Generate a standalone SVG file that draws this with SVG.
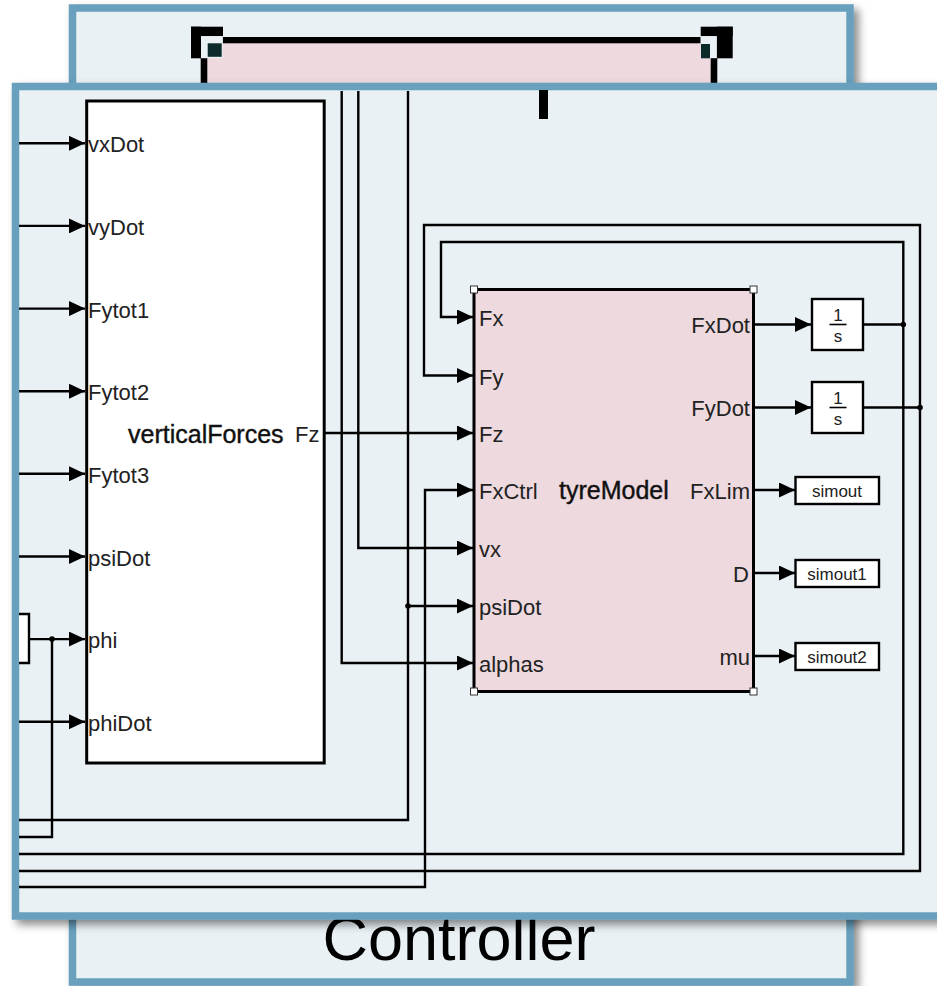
<svg xmlns="http://www.w3.org/2000/svg" width="937" height="986" viewBox="0 0 937 986">
<defs>
<style>
.panel{fill:#e9f1f5;stroke:#68a0bd;stroke-width:7.5}
.blk{stroke:#000;stroke-width:3}
.w{stroke:#000;stroke-width:2.4;fill:none}
.lbl{font-family:"Liberation Sans",Arial,sans-serif;font-size:22px;fill:#222}
.ttl{font-family:"Liberation Sans",Arial,sans-serif;font-size:25px;fill:#111;stroke:#111;stroke-width:0.4}
.sm{font-family:"Liberation Sans",Arial,sans-serif;font-size:17px;fill:#222;text-anchor:middle}
.frac{font-family:"Liberation Sans",Arial,sans-serif;font-size:17px;fill:#222;text-anchor:middle}
.h{fill:#fff;stroke:#333;stroke-width:1}
</style>
<filter id="sh" x="-5%" y="-5%" width="115%" height="115%">
<feDropShadow dx="5" dy="5" stdDeviation="4" flood-color="#000" flood-opacity="0.45"/>
</filter>
<marker id="ar" markerUnits="userSpaceOnUse" markerWidth="16" markerHeight="15" refX="16" refY="7.5" orient="auto">
<path d="M0,0 L16,7.5 L0,15 z" fill="#000"/>
</marker>
</defs>
<rect width="937" height="986" fill="#fff"/>

<g id="controller">
<rect class="panel" x="72.5" y="8" width="777.5" height="974" filter="url(#sh)"/>
<text x="459" y="960" font-family="'Liberation Sans',Arial,sans-serif" font-size="63" fill="#000" text-anchor="middle">Controller</text>
<rect x="207" y="43" width="504" height="45" fill="#edd9de"/>
<rect x="222.7" y="37" width="478" height="6.3" fill="#000"/>
<rect x="200.7" y="58" width="6.6" height="30" fill="#000"/>
<rect x="710.7" y="58" width="6.6" height="30" fill="#000"/>
<rect x="191" y="26.7" width="32" height="9.5" fill="#000"/>
<rect x="191" y="26.7" width="10" height="31.6" fill="#000"/>
<rect x="201" y="36.2" width="21.7" height="22" fill="#e9f1f5"/>
<rect x="207.7" y="43.3" width="14" height="13.5" fill="#0b2a2a"/>
<rect x="700.7" y="26.7" width="32" height="9.5" fill="#000"/>
<rect x="716.7" y="26.7" width="16" height="31.6" fill="#000"/>
<rect x="700.7" y="36.2" width="16" height="22" fill="#e9f1f5"/>
<rect x="701" y="44" width="9" height="14.3" fill="#0b2a2a"/>
</g>

<g id="subsystem">
<rect class="panel" x="15.5" y="86.5" width="940" height="829.5" filter="url(#sh)"/>
<rect x="539" y="90" width="9" height="29" fill="#000"/>
</g>

<g id="phiSource">
<rect x="19" y="614" width="10" height="49" fill="#fff"/>
<path d="M19,614 H29 V663 H19" fill="none" stroke="#000" stroke-width="2.4"/>
</g>

<g id="verticalForces">
<rect class="blk" x="86.7" y="101" width="237.5" height="662" fill="#fff"/>
<text class="lbl" x="88" y="152.3">vxDot</text>
<text class="lbl" x="88" y="234.9">vyDot</text>
<text class="lbl" x="88" y="317.6">Fytot1</text>
<text class="lbl" x="88" y="400.2">Fytot2</text>
<text class="lbl" x="88" y="482.8">Fytot3</text>
<text class="lbl" x="88" y="565.5">psiDot</text>
<text class="lbl" x="88" y="648.1">phi</text>
<text class="lbl" x="88" y="730.7">phiDot</text>
<text class="ttl" x="128" y="443">verticalForces</text>
<text class="lbl" x="295" y="442">Fz</text>
</g>

<g id="tyreModel">
<rect class="blk" x="474" y="289.5" width="279.5" height="402" fill="#edd9de"/>
<rect class="h" x="470.5" y="286" width="7" height="7"/>
<rect class="h" x="750" y="286" width="7" height="7"/>
<rect class="h" x="470.5" y="688" width="7" height="7"/>
<rect class="h" x="750" y="688" width="7" height="7"/>
<text class="lbl" x="479" y="326">Fx</text>
<text class="lbl" x="479" y="384.5">Fy</text>
<text class="lbl" x="479" y="442">Fz</text>
<text class="lbl" x="479" y="499">FxCtrl</text>
<text class="lbl" x="479" y="557">vx</text>
<text class="lbl" x="479" y="615">psiDot</text>
<text class="lbl" x="479" y="672">alphas</text>
<text class="ttl" x="559" y="499">tyreModel</text>
<g text-anchor="end">
<text class="lbl" x="750" y="333.3">FxDot</text>
<text class="lbl" x="750" y="416.3">FyDot</text>
<text class="lbl" x="750" y="499.3">FxLim</text>
<text class="lbl" x="749" y="582.3">D</text>
<text class="lbl" x="750" y="665.3">mu</text>
</g>
</g>

<g id="integrator1">
<rect x="812" y="299" width="51" height="51" fill="#fff" stroke="#000" stroke-width="2.4"/>
<text class="frac" x="838" y="321">1</text>
<line x1="829.5" y1="324.5" x2="846.5" y2="324.5" stroke="#000" stroke-width="1.6"/>
<text class="frac" x="838" y="342">s</text>
</g>
<g id="integrator2">
<rect x="812" y="382" width="51" height="51" fill="#fff" stroke="#000" stroke-width="2.4"/>
<text class="frac" x="838" y="404">1</text>
<line x1="829.5" y1="407.5" x2="846.5" y2="407.5" stroke="#000" stroke-width="1.6"/>
<text class="frac" x="838" y="425">s</text>
</g>
<g id="simout">
<rect x="795.5" y="477" width="83.5" height="27" fill="#fff" stroke="#000" stroke-width="2.4"/>
<text class="sm" x="837" y="496.5">simout</text>
</g>
<g id="simout1">
<rect x="795.5" y="560" width="83.5" height="27" fill="#fff" stroke="#000" stroke-width="2.4"/>
<text class="sm" x="837" y="579.5">simout1</text>
</g>
<g id="simout2">
<rect x="795.5" y="643" width="83.5" height="27" fill="#fff" stroke="#000" stroke-width="2.4"/>
<text class="sm" x="837" y="662.5">simout2</text>
</g>

<g id="connectors">
<path class="w" marker-end="url(#ar)" d="M19,143.3 H85"/>
<path class="w" marker-end="url(#ar)" d="M19,225.9 H85"/>
<path class="w" marker-end="url(#ar)" d="M19,308.6 H85"/>
<path class="w" marker-end="url(#ar)" d="M19,391.2 H85"/>
<path class="w" marker-end="url(#ar)" d="M19,473.8 H85"/>
<path class="w" marker-end="url(#ar)" d="M19,556.5 H85"/>
<path class="w" marker-end="url(#ar)" d="M29,639.1 H85"/>
<path class="w" marker-end="url(#ar)" d="M19,721.7 H85"/>
<path class="w" d="M52,639.1 V837 H19"/>
<path class="w" marker-end="url(#ar)" d="M324,433 H473"/>
<path class="w" marker-end="url(#ar)" d="M341.7,91 V663 H473"/>
<path class="w" marker-end="url(#ar)" d="M358.3,91 V548 H473"/>
<path class="w" d="M408,91 V820 H19"/>
<path class="w" marker-end="url(#ar)" d="M408,606 H473"/>
<path class="w" marker-end="url(#ar)" d="M19,887 H425 V490 H473"/>
<path class="w" marker-end="url(#ar)" d="M863,324.5 H903.3 V242 H441 V317 H473"/>
<path class="w" d="M903.3,324.5 V854 H19"/>
<path class="w" marker-end="url(#ar)" d="M863,407.5 H920 V225 H424 V375.5 H473"/>
<path class="w" d="M920,407.5 V871 H19"/>
<path class="w" marker-end="url(#ar)" d="M754,324.5 H811"/>
<path class="w" marker-end="url(#ar)" d="M754,407.5 H811"/>
<path class="w" marker-end="url(#ar)" d="M754,490 H795"/>
<path class="w" marker-end="url(#ar)" d="M754,573 H795"/>
<path class="w" marker-end="url(#ar)" d="M754,656 H795"/>
<circle cx="52" cy="639.1" r="2.8" fill="#000"/>
<circle cx="408" cy="606" r="2.8" fill="#000"/>
<circle cx="903.3" cy="324.5" r="2.8" fill="#000"/>
<circle cx="920" cy="407.5" r="2.8" fill="#000"/>
</g>
</svg>
